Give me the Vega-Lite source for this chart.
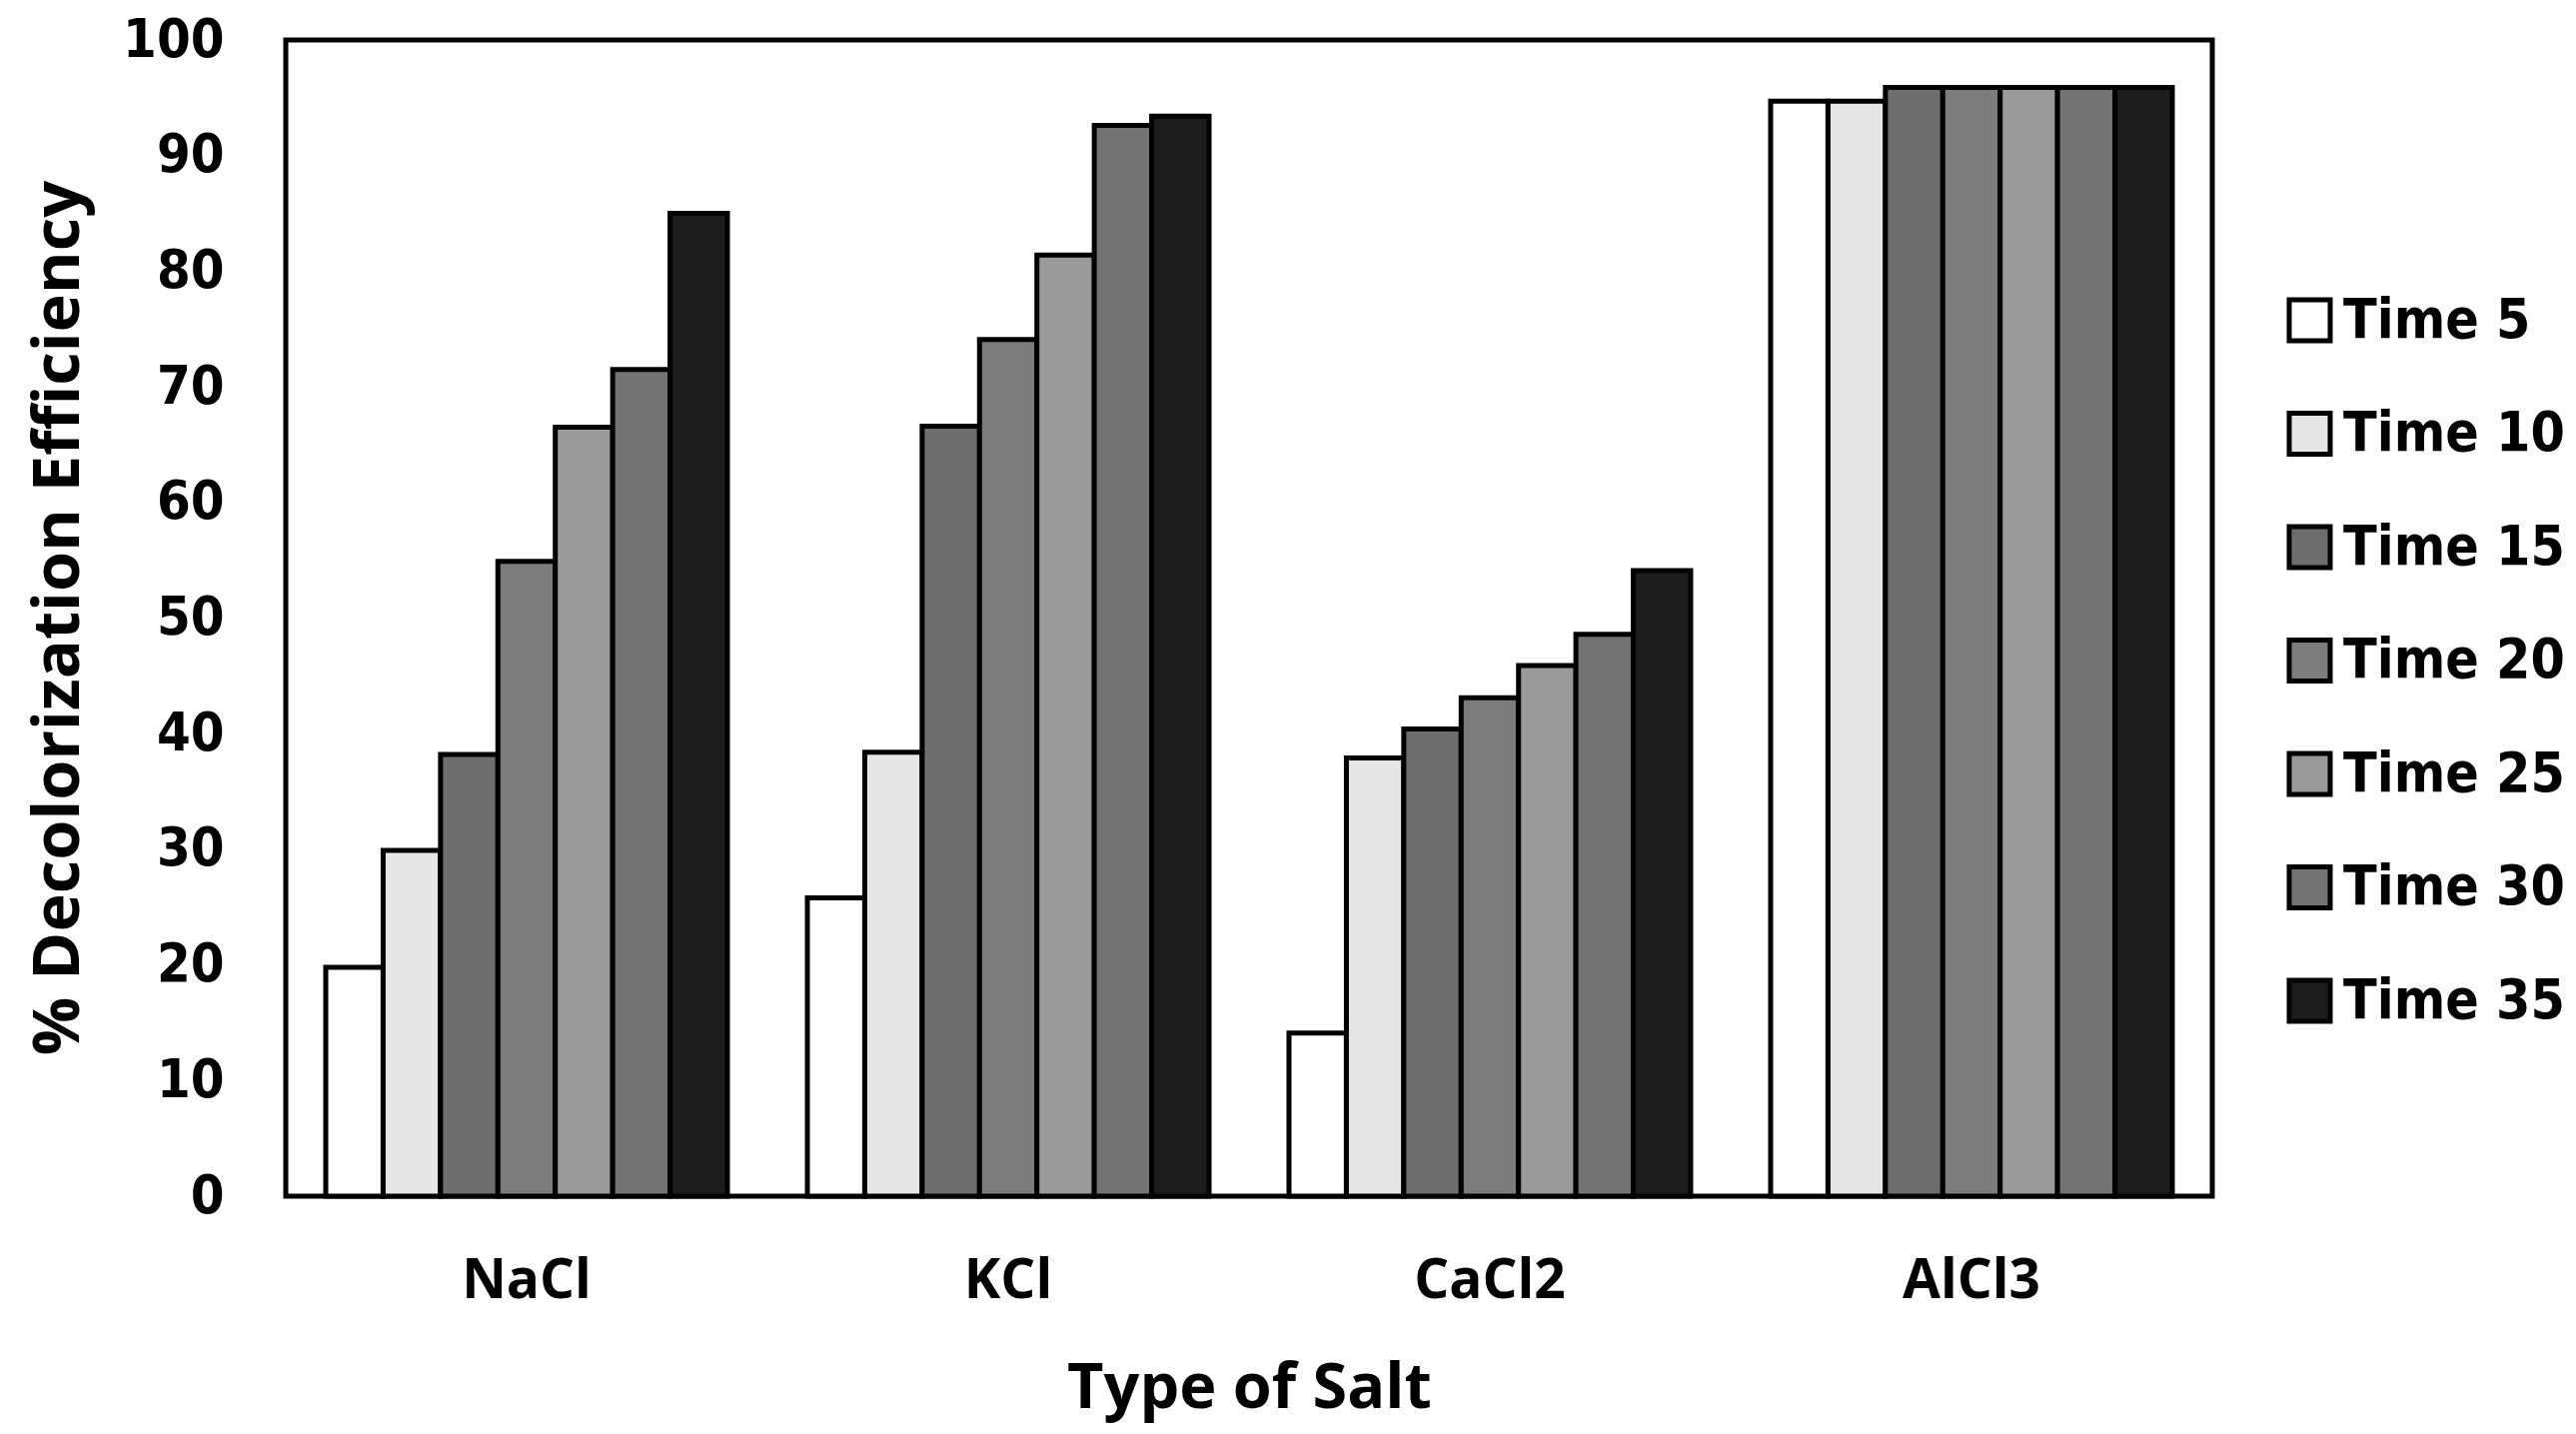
{
  "$schema": "https://vega.github.io/schema/vega-lite/v6.json",
  "width": 1928,
  "height": 1157,
  "autosize": {"type": "none"},
  "padding": {"left": 286, "top": 40, "right": 364, "bottom": 238},
  "background": "white",
  "config": {
    "view": {"stroke": "black", "strokeWidth": 5},
    "axis": {"grid": false, "domain": false, "ticks": false, "tickSize": 0}
  },
  "data": {
    "values": [
      {"Salt": "NaCl", "Time": "Time 5", "Efficiency": 19.8},
      {"Salt": "NaCl", "Time": "Time 10", "Efficiency": 29.9},
      {"Salt": "NaCl", "Time": "Time 15", "Efficiency": 38.2},
      {"Salt": "NaCl", "Time": "Time 20", "Efficiency": 54.9},
      {"Salt": "NaCl", "Time": "Time 25", "Efficiency": 66.5},
      {"Salt": "NaCl", "Time": "Time 30", "Efficiency": 71.5},
      {"Salt": "NaCl", "Time": "Time 35", "Efficiency": 85.0},
      {"Salt": "KCl", "Time": "Time 5", "Efficiency": 25.8},
      {"Salt": "KCl", "Time": "Time 10", "Efficiency": 38.4},
      {"Salt": "KCl", "Time": "Time 15", "Efficiency": 66.6},
      {"Salt": "KCl", "Time": "Time 20", "Efficiency": 74.1},
      {"Salt": "KCl", "Time": "Time 25", "Efficiency": 81.4},
      {"Salt": "KCl", "Time": "Time 30", "Efficiency": 92.6},
      {"Salt": "KCl", "Time": "Time 35", "Efficiency": 93.4},
      {"Salt": "CaCl2", "Time": "Time 5", "Efficiency": 14.1},
      {"Salt": "CaCl2", "Time": "Time 10", "Efficiency": 37.9},
      {"Salt": "CaCl2", "Time": "Time 15", "Efficiency": 40.4},
      {"Salt": "CaCl2", "Time": "Time 20", "Efficiency": 43.1},
      {"Salt": "CaCl2", "Time": "Time 25", "Efficiency": 45.9},
      {"Salt": "CaCl2", "Time": "Time 30", "Efficiency": 48.6},
      {"Salt": "CaCl2", "Time": "Time 35", "Efficiency": 54.1},
      {"Salt": "AlCl3", "Time": "Time 5", "Efficiency": 94.7},
      {"Salt": "AlCl3", "Time": "Time 10", "Efficiency": 94.7},
      {"Salt": "AlCl3", "Time": "Time 15", "Efficiency": 95.9},
      {"Salt": "AlCl3", "Time": "Time 20", "Efficiency": 95.9},
      {"Salt": "AlCl3", "Time": "Time 25", "Efficiency": 95.9},
      {"Salt": "AlCl3", "Time": "Time 30", "Efficiency": 95.9},
      {"Salt": "AlCl3", "Time": "Time 35", "Efficiency": 95.9}
    ]
  },
  "mark": {"type": "bar", "stroke": "black", "strokeWidth": 5},
  "encoding": {
    "x": {
      "field": "Salt",
      "type": "nominal",
      "sort": ["NaCl", "KCl", "CaCl2", "AlCl3"],
      "scale": {"paddingInner": 0.166, "paddingOuter": 0.083},
      "axis": {
        "title": "Type of Salt",
        "labelAngle": 0,
        "labelFont": "Open Sans",
        "labelFontWeight": "bold",
        "labelFontSize": 55,
        "labelColor": "black",
        "labelBaseline": "alphabetic",
        "labelPadding": 101,
        "titleFont": "Open Sans",
        "titleFontWeight": "bold",
        "titleFontSize": 63,
        "titleColor": "black",
        "titleBaseline": "alphabetic",
        "titleX": 964,
        "titleY": 211,
        "titleAlign": "center"
      }
    },
    "xOffset": {
      "field": "Time",
      "type": "nominal",
      "sort": ["Time 5", "Time 10", "Time 15", "Time 20", "Time 25", "Time 30", "Time 35"],
      "scale": {"paddingInner": 0, "paddingOuter": 0}
    },
    "y": {
      "field": "Efficiency",
      "type": "quantitative",
      "scale": {"domain": [0, 100], "nice": false},
      "axis": {
        "title": "% Decolorization Efficiency",
        "values": [0, 10, 20, 30, 40, 50, 60, 70, 80, 90, 100],
        "labelFont": "DejaVu Sans Condensed, DejaVu Sans",
        "labelFontWeight": "bold",
        "labelFontSize": 54,
        "labelColor": "black",
        "labelPadding": 62,
        "titleFont": "Open Sans",
        "titleFontWeight": "bold",
        "titleFontSize": 65,
        "titleColor": "black",
        "titleBaseline": "alphabetic",
        "titleAngle": -90,
        "titleX": -208,
        "titleY": 578,
        "titleAlign": "center"
      }
    },
    "fill": {
      "field": "Time",
      "type": "nominal",
      "sort": ["Time 5", "Time 10", "Time 15", "Time 20", "Time 25", "Time 30", "Time 35"],
      "scale": {"range": ["#ffffff", "#e6e6e6", "#6e6e6e", "#7c7c7c", "#9a9a9a", "#737373", "#1c1c1c"]},
      "legend": {
        "title": null,
        "orient": "none",
        "legendX": 1998,
        "legendY": 253,
        "padding": 0,
        "symbolType": "square",
        "symbolSize": 1681,
        "symbolStrokeColor": "black",
        "symbolStrokeWidth": 5,
        "labelFont": "DejaVu Sans Condensed, DejaVu Sans",
        "labelFontWeight": "bold",
        "labelFontSize": 55,
        "labelColor": "black",
        "labelOffset": 6,
        "labelLimit": 0,
        "rowPadding": 52.5
      }
    }
  }
}
